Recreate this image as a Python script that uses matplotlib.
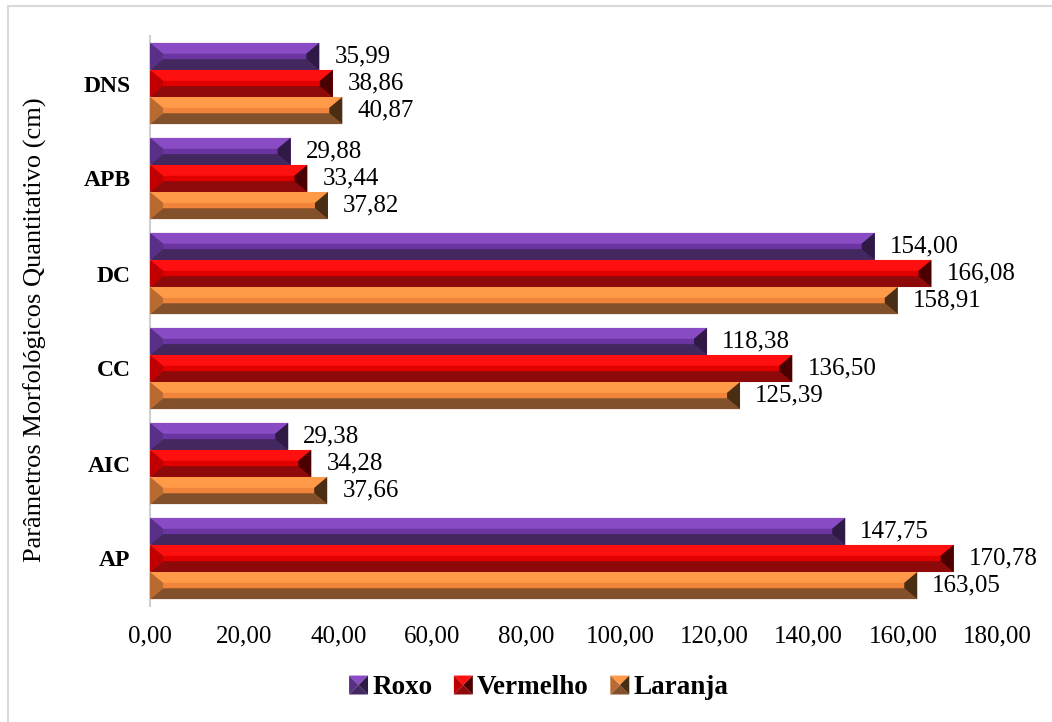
import matplotlib
matplotlib.use("Agg")
import matplotlib.pyplot as plt
from matplotlib.patches import Polygon, Rectangle
from matplotlib.legend_handler import HandlerPatch
import matplotlib.patches as mpatches
import numpy as np

categories = ["AP", "AIC", "CC", "DC", "APB", "DNS"]
series = ["Roxo", "Vermelho", "Laranja"]
roxo = [147.75, 29.38, 118.38, 154.00, 29.88, 35.99]
vermelho = [170.78, 34.28, 136.50, 166.08, 33.44, 38.86]
laranja = [163.05, 37.66, 125.39, 158.91, 37.82, 40.87]
xticks = [0, 20, 40, 60, 80, 100, 120, 140, 160, 180]

# base, light, dark, left, right colours
palette = {
    "Roxo": ("#6a35a0", "#8a4cc4", "#43275f", "#5a2f88", "#2e1a45"),
    "Vermelho": ("#e00000", "#ff1010", "#8e0a0a", "#c00000", "#4a0000"),
    "Laranja": ("#f0843a", "#ff9a48", "#82502a", "#b86a30", "#4a2e14"),
}

plt.rcParams["font.family"] = ["Liberation Serif", "DejaVu Serif"]

W, H = 1052, 722
fig = plt.figure(figsize=(W / 100, H / 100), dpi=100)
fig.patches.append(Rectangle((8 / W, -0.02), 1.1, 1 - 6 / H + 0.02, transform=fig.transFigure,
                             fill=False, edgecolor="#d9d9d9", linewidth=1.5, zorder=-5))
left, right, bottom, top = 150 / W, 997 / W, 1 - 606 / H, 1 - 36 / H
ax = fig.add_axes([left, bottom, right - left, top - bottom])

xmax = 180
ax.set_xlim(0, xmax)
ax.set_ylim(-0.5, len(categories) - 0.5)

bar_h = 0.285
offsets = [bar_h, 0, -bar_h]
px_per_x = (right - left) * W / xmax
dx = 13 / px_per_x

y = np.arange(len(categories))
all_vals = [roxo, vermelho, laranja]
for name, vals, off in zip(series, all_vals, offsets):
    base, light, dark, lcol, rcol = palette[name]
    bars = ax.barh(y + off, vals, height=bar_h, color=base, edgecolor="none", zorder=2)
    for b, v in zip(bars, vals):
        x0, y0 = b.get_x(), b.get_y()
        x1, y1 = x0 + b.get_width(), y0 + b.get_height()
        hh = y1 - y0
        dy = 0.4 * hh
        ix0, ix1 = x0 + dx, x1 - dx
        iy0, iy1 = y0 + dy, y1 - dy
        polys = [
            ([(x0, y1), (x1, y1), (ix1, iy1), (ix0, iy1)], light),
            ([(x0, y0), (x1, y0), (ix1, iy0), (ix0, iy0)], dark),
            ([(x0, y0), (x0, y1), (ix0, iy1), (ix0, iy0)], lcol),
            ([(x1, y0), (x1, y1), (ix1, iy1), (ix1, iy0)], rcol),
        ]
        for pts, c in polys:
            ax.add_patch(Polygon(pts, closed=True, facecolor=c, edgecolor="none", zorder=3))
        ax.text(v + 3.2, y0 + hh / 2, f"{v:.2f}".replace(".", ","), va="center", ha="left",
                fontsize=18, color="#000000", zorder=4)

ax.set_yticks(y)
ax.set_yticklabels(categories, fontsize=17, fontweight="bold")
ax.set_xticks(xticks)
ax.set_xticklabels([f"{t:.2f}".replace(".", ",") for t in xticks], fontsize=18)
ax.tick_params(axis="x", length=0, pad=14)
ax.tick_params(axis="y", length=0, pad=14)
for s in ["top", "right", "bottom"]:
    ax.spines[s].set_visible(False)
ax.spines["left"].set_color("#d0d0d0")
ax.spines["left"].set_linewidth(1.5)
ax.set_ylabel("Parâmetros Morfológicos Quantitativo (cm)", fontsize=19, va="center")
ax.yaxis.set_label_coords(-0.136, 0.484)


class BevelHandler(HandlerPatch):
    def __init__(self, cols):
        super().__init__()
        self.cols = cols

    def create_artists(self, legend, orig_handle, xdescent, ydescent, width, height, fontsize, trans):
        base, light, dark, lcol, rcol = self.cols
        s = height * 1.0
        x0 = -xdescent + width - s
        y0 = -ydescent + (height - s) / 2
        x1, y1 = x0 + s, y0 + s
        cx, cy = (x0 + x1) / 2, (y0 + y1) / 2
        arts = []
        for pts, c in [
            ([(x0, y1), (x1, y1), (cx, cy)], light),
            ([(x0, y0), (x1, y0), (cx, cy)], dark),
            ([(x0, y0), (x0, y1), (cx, cy)], lcol),
            ([(x1, y0), (x1, y1), (cx, cy)], rcol),
        ]:
            p = Polygon(pts, closed=True, facecolor=c, edgecolor="none", transform=trans)
            arts.append(p)
        return arts


handles = [mpatches.Patch(color=palette[n][0], label=n) for n in series]
fig.legend(handles=handles, labels=series, loc="center", bbox_to_anchor=(540 / W, 1 - 688 / H),
           ncol=3, frameon=False, prop={"size": 19.5, "weight": "bold"},
           handler_map={h: BevelHandler(palette[n]) for h, n in zip(handles, series)},
           handlelength=0.6, handletextpad=0.15, columnspacing=0.9)

fig.savefig("out.png", dpi=100)
